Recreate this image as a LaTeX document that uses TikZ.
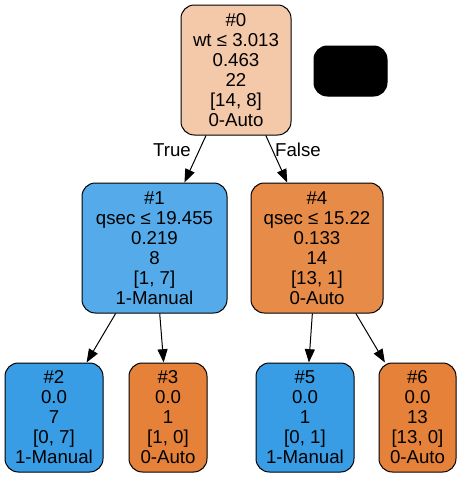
\documentclass[tikz,border=0pt]{standalone}
\usepackage{fontspec}
\setmainfont{Liberation Sans}
\usetikzlibrary{arrows.meta}
\definecolor{autoroot}{HTML}{F4C9AA}
\definecolor{manualmid}{HTML}{55ABE9}
\definecolor{automid}{HTML}{E78B48}
\definecolor{manualleaf}{HTML}{399DE5}
\definecolor{autoleaf}{HTML}{E58139}
\begin{document}
\begin{tikzpicture}[x=0.75pt, y=-0.75pt,
        box/.style={draw, line width=0.75pt, rounded corners=10pt, align=center, inner sep=0pt,
            font=\fontsize{14}{15}\selectfont},
        inner/.style={box, minimum height=97.5pt},
        leaf/.style={box, minimum height=81.75pt},
        edge/.style={line width=0.75pt, -{Triangle[length=10pt,width=7.5pt]}},
        lbl/.style={font=\fontsize{14}{15}\selectfont}]
    \useasboundingbox (0,0) rectangle (463,479);

    % split nodes
    \node [inner, fill=autoroot, minimum width=82.5pt] (n0) at (236,70)
        {\#0\\wt ≤ 3.013\\0.463\\22\\{[14, 8]}\\0-Auto};
    \node [box, fill=black, minimum width=54.75pt, minimum height=37.5pt] (legend) at (350.5,71) {};
    \node [inner, fill=manualmid, minimum width=108.75pt] (n1) at (154.5,248)
        {\#1\\qsec ≤ 19.455\\0.219\\8\\{[1, 7]}\\1-Manual};
    \node [inner, fill=automid, minimum width=99pt] (n4) at (317,248)
        {\#4\\qsec ≤ 15.22\\0.133\\14\\{[13, 1]}\\0-Auto};

    % leaves
    \node [leaf, fill=manualleaf, minimum width=73.5pt] (n2) at (54,417.5)
        {\#2\\0.0\\7\\{[0, 7]}\\1-Manual};
    \node [leaf, fill=autoleaf, minimum width=58.5pt] (n3) at (168,417.5)
        {\#3\\0.0\\1\\{[1, 0]}\\0-Auto};
    \node [leaf, fill=manualleaf, minimum width=73.5pt] (n5) at (305,417.5)
        {\#5\\0.0\\1\\{[0, 1]}\\1-Manual};
    \node [leaf, fill=autoleaf, minimum width=57.75pt] (n6) at (417.5,417.5)
        {\#6\\0.0\\13\\{[13, 0]}\\0-Auto};

    \draw [edge] (n0) -- (n1);
    \draw [edge] (n0) -- (n4);
    \node [lbl] (true) at (172,150) {True};
    \node [lbl] (false) at (298,150) {False};
    \foreach \a/\b in {n1/n2, n1/n3, n4/n5, n4/n6}
        \draw [edge] (\a) -- (\b);
\end{tikzpicture}
\end{document}
